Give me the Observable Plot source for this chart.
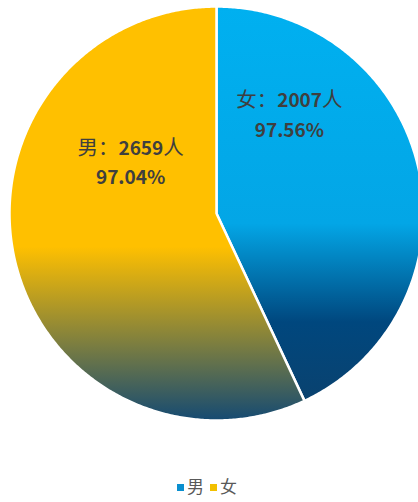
<!DOCTYPE html>
<html>
<head>
<meta charset="utf-8">
<script src="https://cdn.jsdelivr.net/npm/d3@7"></script>
<script src="https://cdn.jsdelivr.net/npm/@observablehq/plot@0.6"></script>
<style>
  html, body { margin: 0; padding: 0; background: #fff; }
  #chart { width: 418px; }
  .legend { display: flex; justify-content: center; align-items: center; gap: 6px; margin-top: 46px; margin-left: -4px;
    font-family: "Noto Sans CJK SC", "Noto Sans", sans-serif; font-size: 17px; color: #595959; line-height: 20px; }
  .legend span.sw { display: inline-block; width: 7px; height: 7px; margin-right: 3px; vertical-align: middle; position: relative; top: 1px; }
  .legend .item { display: inline-flex; align-items: center; }
</style>
</head>
<body>
<div id="chart"></div>
<script>
// ---- data ----
const names = ["女", "男"];
const counts = [2007, 2659];
const rates = ["97.56%", "97.04%"];
const legendNames = ["男", "女"];
const legendColors = ["#0A8FCF", "#F2C000"];

// ---- layout ----
const W = 418, H = 430;
const labelPos = { "女": [0.352, 0.488], "男": [-0.415, 0.258] };
const gradIds = { "女": "gFemale", "男": "gMale" };

// build slice polygons from the data (angles from 12 o'clock, clockwise)
const total = d3.sum(counts);
const slices = [];
let start = 0;
names.forEach((n, i) => {
  const a0 = start, a1 = start + counts[i] / total * 2 * Math.PI;
  start = a1;
  const pts = [{name: n, x: 0, y: 0}];
  const steps = Math.max(2, Math.ceil((a1 - a0) / (Math.PI / 360)));
  for (let k = 0; k <= steps; k++) {
    const a = a0 + (a1 - a0) * k / steps;
    pts.push({name: n, x: Math.sin(a), y: Math.cos(a)});
  }
  pts.push({name: n, x: 0, y: 0});
  slices.push({name: n, pts});
});

const labels = names.map((n, i) => ({
  name: n, x: labelPos[n][0], y: labelPos[n][1],
  text: `${n}：${counts[i]}人\n${rates[i]}`
}));

const plot = Plot.plot({
  width: W, height: H,
  margin: 0,
  x: {domain: [-216 / 207, (W - 216) / 207], range: [0, W], axis: null},
  y: {domain: [(213 - H) / 207, 213 / 207], range: [H, 0], axis: null},
  marks: [
    ...slices.map(s => Plot.line(s.pts, {
      x: "x", y: "y",
      fill: `url(#${gradIds[s.name]})`,
      stroke: "white", strokeWidth: 2.5, strokeLinejoin: "round"
    })),
    Plot.text(labels, {
      x: "x", y: "y", text: "text",
      fontSize: 19, fontWeight: "bold", lineHeight: 1.55,
      fill: "#3F3F3F",
      fontFamily: "'Noto Sans CJK SC', 'DejaVu Sans', sans-serif"
    })
  ]
});

// Chinese characters in regular weight, digits bold (as in the original)
plot.querySelectorAll("text tspan").forEach(ts => {
  const str = ts.textContent;
  if (!/[\u4e00-\u9fff]/.test(str)) return;
  const parts = str.match(/[\u4e00-\u9fff\uff1a]+|[^\u4e00-\u9fff\uff1a]+/g);
  ts.textContent = "";
  parts.forEach(p => {
    const sub = document.createElementNS("http://www.w3.org/2000/svg", "tspan");
    sub.textContent = p;
    if (/[\u4e00-\u9fff\uff1a]/.test(p)) { sub.setAttribute("font-weight", "normal"); sub.setAttribute("font-size", "20.5"); }
    ts.appendChild(sub);
  });
});

// gradient definitions
const ns = "http://www.w3.org/2000/svg";
const defs = document.createElementNS(ns, "defs");
const grads = {
  gFemale: [[0, "#00B0F0"], [0.55, "#03A6E6"], [0.8, "#00477E"], [1, "#0A426F"]],
  gMale: [[0, "#FFC000"], [0.58, "#FFC000"], [1, "#154A72"]]
};
for (const [id, stops] of Object.entries(grads)) {
  const g = document.createElementNS(ns, "linearGradient");
  g.setAttribute("id", id);
  g.setAttribute("x1", "0"); g.setAttribute("y1", "0");
  g.setAttribute("x2", "0"); g.setAttribute("y2", "1");
  for (const [o, c] of stops) {
    const s = document.createElementNS(ns, "stop");
    s.setAttribute("offset", o);
    s.setAttribute("stop-color", c);
    g.appendChild(s);
  }
  defs.appendChild(g);
}
plot.insertBefore(defs, plot.firstChild);
document.getElementById("chart").appendChild(plot);

// legend
const legend = document.createElement("div");
legend.className = "legend";
legendNames.forEach((n, i) => {
  const item = document.createElement("span");
  item.className = "item";
  item.innerHTML = `<span class="sw" style="background:${legendColors[i]}"></span>${n}`;
  legend.appendChild(item);
});
document.body.appendChild(legend);
</script>
</body>
</html>
